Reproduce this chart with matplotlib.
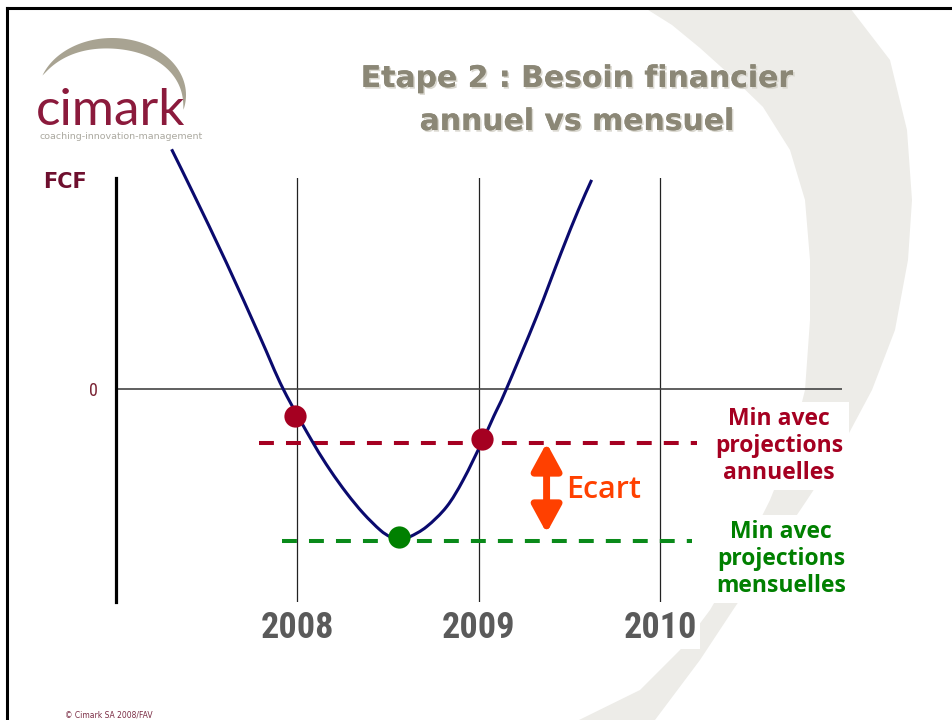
import numpy as np
import matplotlib
matplotlib.use('Agg')
import matplotlib.pyplot as plt
from matplotlib.patches import Polygon, PathPatch
from matplotlib.path import Path
from matplotlib.lines import Line2D
from matplotlib import font_manager as fm
import matplotlib.patheffects as pe

# ---------------- data ----------------
years = [2008, 2009, 2010]
year_labels = ['2008', '2009', '2010']

curve_x = [2007.310, 2007.429, 2007.613, 2007.796, 2007.925, 2008.090,
           2008.182, 2008.274, 2008.365, 2008.457, 2008.512, 2008.563, 2008.622,
           2008.714, 2008.824, 2008.915, 2009.021, 2009.084, 2009.148, 2009.319,
           2009.453, 2009.549, 2009.622]
curve_y = [2.264, 1.849, 1.189, 0.496, 0.000, -0.509,
           -0.761, -0.981, -1.170, -1.327, -1.391, -1.422, -1.391,
           -1.296, -1.108, -0.856, -0.488, -0.252, -0.016, 0.685,
           1.283, 1.692, 1.975]

annual_pts_x = [2007.989, 2009.020]
annual_pts_y = [-0.252, -0.469]
monthly_pt_x = [2008.563]
monthly_pt_y = [-1.397]

min_annual = -0.503
min_monthly = -1.431
annual_line_x = [2007.791, 2010.201]
monthly_line_x = [2007.917, 2010.174]

ecart_x = 2009.374
ecart_top = -0.507
ecart_bottom = -1.356

# ---------------- fonts ----------------
def find_font(name, bold, fname_has=None):
    for f in fm.fontManager.ttflist:
        if f.name != name or f.style != 'normal':
            continue
        w = f.weight if isinstance(f.weight, int) else (700 if 'bold' in str(f.weight) else 400)
        if bold and w < 600:
            continue
        if not bold and w >= 600:
            continue
        if fname_has and fname_has not in f.fname:
            continue
        return f.fname
    return None

narrow_bold = find_font('Liberation Sans Narrow', True) or find_font('Roboto Condensed', True)
narrow_reg = find_font('Liberation Sans Narrow', False) or find_font('Roboto Condensed', False)
if narrow_bold:
    year_fp = fm.FontProperties(fname=narrow_bold, size=26)
else:
    year_fp = fm.FontProperties(family=['Liberation Sans', 'DejaVu Sans'], weight='bold', size=24.5)
if narrow_reg:
    zero_fp = fm.FontProperties(fname=narrow_reg, size=13)
else:
    zero_fp = fm.FontProperties(family=['Liberation Sans', 'DejaVu Sans'], size=12)

# ---------------- figure ----------------
W, H = 953, 720
fig = plt.figure(figsize=(W / 100, H / 100), dpi=100)
fig.patch.set_facecolor('white')


def fx(px):
    return px / W


def fy(py):
    return 1 - py / H


# background decorative band (template)
outer = [(850, 8), (890, 60), (907, 130), (912, 200), (908, 260), (895, 330),
         (872, 390), (840, 450), (807, 500), (770, 555), (733, 610), (700, 660),
         (670, 700), (655, 720)]
inner = [(579, 720), (640, 690), (680, 650), (710, 610), (745, 550), (770, 500),
         (790, 450), (805, 390), (810, 320), (810, 260), (805, 200), (790, 150),
         (763, 107), (730, 75), (700, 48), (672, 25), (645, 8)]
band = Polygon([(fx(x), fy(y)) for x, y in outer + inner], closed=True,
               transform=fig.transFigure, facecolor='#EDECE8', edgecolor='none', zorder=-2)
fig.patches.append(band)

# slide border
fig.add_artist(Line2D([fx(7), fx(7)], [fy(8), 0], color='black', lw=2.2,
                      transform=fig.transFigure, zorder=-1))
fig.add_artist(Line2D([fx(7), 1], [fy(8), fy(8)], color='black', lw=2.2,
                      transform=fig.transFigure, zorder=-1))

# logo swoosh
cx, cy, rx, ry = 112, 95, 74, 57
t = np.radians(np.linspace(160, -15, 80))
s = np.linspace(0, 1, 80)
w = 11 * np.sin(np.pi * s) ** 0.8
ox = cx + rx * np.cos(t)
oy = cy - ry * np.sin(t)
dx, dy = cx - ox, cy - oy
nrm = np.hypot(dx, dy)
ix = ox + dx / nrm * w
iy = oy + dy / nrm * w
pts = list(zip(ox, oy)) + list(zip(ix[::-1], iy[::-1]))
sw = Polygon([(fx(x), fy(y)) for x, y in pts], closed=True, transform=fig.transFigure,
             facecolor='#A8A392', edgecolor='none', zorder=2)
fig.patches.append(sw)
fig.text(fx(36), fy(125), 'cimark', fontsize=37, color='#8B1A3C',
         family=['Lato', 'DejaVu Sans'], ha='left', va='baseline', zorder=3)
fig.text(fx(40), fy(139), 'coaching-innovation-management', fontsize=6.8,
         color='#ABA9A0', ha='left', va='baseline', zorder=3)

# title
shadow = [pe.withSimplePatchShadow(offset=(1.2, -1.2), shadow_rgbFace='#DAD8D0', alpha=1.0),
          pe.Normal()]
for txt, ybase in [('Etape 2 : Besoin financier', 87), ('annuel vs mensuel', 130)]:
    fig.text(fx(577), fy(ybase), txt, ha='center', va='baseline',
             fontsize=21.5, fontweight='bold', color='#8B8776', path_effects=shadow)

# FCF label
fig.text(fx(43), fy(188), 'FCF', ha='left', va='baseline', fontsize=15,
         fontweight='bold', color='#6E0F2E')

# footer
fig.text(fx(65), fy(719), '\u00a9 Cimark SA 2008/FAV', fontsize=5.5, color='#7B2D45',
         ha='left', va='bottom')

# ---------------- axes ----------------
ax = fig.add_axes([fx(116), fy(602), (842 - 116) / W, (602 - 178) / H])
ax.patch.set_visible(False)
ax.set_xlim(2007.004, 2011.0)
ax.set_ylim(-2.007, 1.993)
for sp in ['top', 'right', 'bottom']:
    ax.spines[sp].set_visible(False)
ax.spines['left'].set_color('black')
ax.spines['left'].set_linewidth(2.3)

ax.set_xticks(years)
ax.set_xticklabels(year_labels)
ax.set_yticks([0])
ax.set_yticklabels(['0'])
ax.tick_params(axis='x', length=0, pad=6, labelcolor='#5A5A5A')
ax.tick_params(axis='y', length=0, pad=13, labelcolor='#7B2535')
for lab in ax.get_xticklabels():
    lab.set_fontproperties(year_fp)
    lab.set_bbox(dict(facecolor='white', edgecolor='none', pad=2))
for lab in ax.get_yticklabels():
    lab.set_fontproperties(zero_fp)

ax.grid(axis='x', color='#222222', lw=0.9)
ax.set_axisbelow(True)
ax.axhline(0, color='#444444', lw=1.2, zorder=1)

# smooth curve through the read points (Catmull-Rom rendered as cubic Beziers)
P = np.column_stack([curve_x, curve_y])
Pe = np.vstack([P[0] - (P[1] - P[0]), P, P[-1] + (P[-1] - P[-2])])
verts = [tuple(P[0])]
codes = [Path.MOVETO]
for i in range(1, len(Pe) - 2):
    p0, p1, p2, p3 = Pe[i - 1], Pe[i], Pe[i + 1], Pe[i + 2]
    c1 = p1 + (p2 - p0) / 6.0
    c2 = p2 - (p3 - p1) / 6.0
    verts += [tuple(c1), tuple(c2), tuple(p2)]
    codes += [Path.CURVE4] * 3
ax.add_patch(PathPatch(Path(verts, codes), facecolor='none', edgecolor='#0A0A6E',
                       lw=2.2, clip_on=False, zorder=3, capstyle='butt'))

ax.plot(annual_line_x, [min_annual, min_annual], color='#A50021', lw=2.9,
        dashes=(3.7, 3.0), dash_capstyle='butt', zorder=2)
ax.plot(monthly_line_x, [min_monthly, min_monthly], color='#0A8A1A', lw=2.9,
        dashes=(3.7, 3.0), dash_capstyle='butt', zorder=2)

ax.plot(annual_pts_x, annual_pts_y, 'o', color='#A50021', markersize=16,
        markeredgewidth=0, zorder=4)
ax.plot(monthly_pt_x, monthly_pt_y, 'o', color='#008000', markersize=16,
        markeredgewidth=0, zorder=4)

ax.annotate('', xy=(ecart_x, ecart_bottom), xytext=(ecart_x, ecart_top),
            arrowprops=dict(arrowstyle='<|-|>,head_length=0.55,head_width=0.3',
                            mutation_scale=30, lw=5, color='#FF4000',
                            shrinkA=0, shrinkB=0), zorder=4)
fig.text(fx(566), fy(490), 'Ecart', ha='left', va='center', fontsize=22,
         fontweight='semibold', color='#FF4000', family=['Open Sans', 'DejaVu Sans'])

# right-hand labels
fig.text(fx(779), fy(446), 'Min avec\nprojections\nannuelles', ha='center', va='center',
         multialignment='center', fontsize=16.5, fontweight='bold', color='#A50021',
         family=['Open Sans', 'DejaVu Sans'], linespacing=1.15,
         bbox=dict(facecolor='white', edgecolor='none', pad=4), zorder=5)
fig.text(fx(781), fy(559), 'Min avec\nprojections\nmensuelles', ha='center', va='center',
         multialignment='center', fontsize=16.5, fontweight='bold', color='#008000',
         family=['Open Sans', 'DejaVu Sans'], linespacing=1.15,
         bbox=dict(facecolor='white', edgecolor='none', pad=4), zorder=5)

fig.savefig('out.png', dpi=100, facecolor='white')
